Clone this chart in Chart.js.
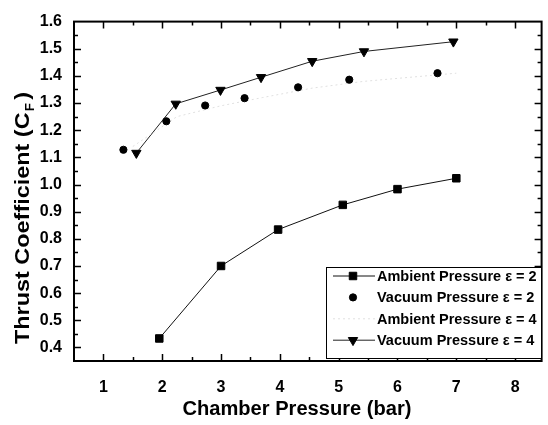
<!DOCTYPE html>
<html>
<head>
<meta charset="utf-8">
<script src="https://cdn.jsdelivr.net/npm/chart.js@4.4.2/dist/chart.umd.min.js"></script>
<style>
  html, body { margin: 0; padding: 0; background: #fff; overflow: hidden; }
  #wrap { width: 548px; height: 425px; position: relative; }
</style>
</head>
<body>
<div id="wrap"><canvas id="cf" width="548" height="425"></canvas></div>
<script>
// Thrust coefficient vs chamber pressure
const xTicks = [1, 2, 3, 4, 5, 6, 7, 8];
const yTicks = [0.4, 0.5, 0.6, 0.7, 0.8, 0.9, 1.0, 1.1, 1.2, 1.3, 1.4, 1.5, 1.6];

const ambE2X = [1.95, 3.0, 3.97, 5.07, 6.0, 7.0];
const ambE2Y = [0.433, 0.70, 0.834, 0.925, 0.983, 1.023];

const vacE2X = [1.34, 2.07, 2.73, 3.4, 4.31, 5.18, 6.68];
const vacE2Y = [1.128, 1.233, 1.291, 1.318, 1.358, 1.386, 1.41];

const ambE4X = [1.5, 2.25, 3.0, 3.7, 4.55, 5.43, 7.0];
const ambE4Y = [1.14, 1.25, 1.29, 1.32, 1.355, 1.38, 1.41];

const vacE4X = [1.56, 2.23, 2.99, 3.68, 4.55, 5.43, 6.95];
const vacE4Y = [1.116, 1.297, 1.348, 1.395, 1.454, 1.49, 1.526];

const X_TITLE = 'Chamber Pressure (bar)';
const Y_TITLE = ['Thrust Coefficient (C', 'F', ')'];

const FONT = '"Liberation Sans", Arial, sans-serif';
const pts = (xs, ys) => xs.map((x, i) => ({ x, y: ys[i] }));

// frame, inward ticks on all sides, legend box, axis titles (y has a subscript)
const decor = {
  id: 'decor',
  afterDraw(chart) {
    const { ctx, chartArea: a, scales: { x, y } } = chart;
    ctx.save();
    ctx.strokeStyle = '#000';
    ctx.lineWidth = 2;
    ctx.strokeRect(a.left, a.top, a.right - a.left, a.bottom - a.top);

    ctx.lineWidth = 1.5;
    ctx.beginPath();
    for (let v = 0.5; v <= 8.5; v += 0.5) {
      const px = Math.round(x.getPixelForValue(v)) + 0.5;
      if (px < a.left + 1 || px > a.right - 1) continue;
      const len = Number.isInteger(v) ? 7 : 4;
      ctx.moveTo(px, a.bottom); ctx.lineTo(px, a.bottom - len);
      ctx.moveTo(px, a.top); ctx.lineTo(px, a.top + len);
    }
    for (let v = 0.4; v <= 1.601; v += 0.05) {
      const py = Math.round(y.getPixelForValue(v)) + 0.5;
      if (py < a.top + 1 || py > a.bottom - 1) continue;
      const major = Math.abs(v * 10 - Math.round(v * 10)) < 1e-6;
      const len = major ? 7 : 4;
      ctx.moveTo(a.left, py); ctx.lineTo(a.left + len, py);
      ctx.moveTo(a.right, py); ctx.lineTo(a.right - len, py);
    }
    ctx.stroke();

    ctx.fillStyle = '#000';
    ctx.textBaseline = 'alphabetic';

    // x axis title
    ctx.save();
    ctx.font = 'bold 20px ' + FONT;
    const wx = ctx.measureText(X_TITLE).width;
    ctx.translate(297, 415);
    ctx.scale(229 / wx, 1);
    ctx.textAlign = 'center';
    ctx.fillText(X_TITLE, 0, 0);
    ctx.restore();

    // y axis title
    const big = 'bold 21px ' + FONT, small = 'bold 12px ' + FONT;
    ctx.save();
    ctx.font = big;
    const wMain = ctx.measureText(Y_TITLE[0]).width;
    const wClose = ctx.measureText(Y_TITLE[2]).width;
    ctx.font = small;
    const wSub = ctx.measureText(Y_TITLE[1]).width;
    const total = wMain + wSub + 4 + wClose;
    ctx.translate(29, 218);
    ctx.rotate(-Math.PI / 2);
    ctx.scale(252 / total, 1);
    let sx = -total / 2;
    ctx.font = big;
    ctx.fillText(Y_TITLE[0], sx, 0);
    sx += wMain + 1;
    ctx.font = small;
    ctx.fillText(Y_TITLE[1], sx, 5);
    sx += wSub + 3;
    ctx.font = big;
    ctx.fillText(Y_TITLE[2], sx, 0);
    ctx.restore();

    // legend
    const lx = 326, ly = 267, lw = 215, lh = 91;
    ctx.fillStyle = '#fff';
    ctx.fillRect(lx, ly, lw, lh);
    ctx.lineWidth = 1;
    ctx.strokeStyle = '#000';
    ctx.strokeRect(lx + 0.5, ly + 0.5, lw, lh);
    ctx.font = 'bold 14.5px ' + FONT;
    ctx.textBaseline = 'middle';
    chart.data.datasets.forEach((ds, i) => {
      const ry = 276 + i * 21.4;
      if (ds.showLine !== false) {
        ctx.save();
        ctx.strokeStyle = ds.borderColor;
        ctx.lineWidth = ds.borderWidth;
        ctx.setLineDash(ds.borderDash || []);
        ctx.beginPath();
        ctx.moveTo(333, ry); ctx.lineTo(375, ry);
        ctx.stroke();
        ctx.restore();
      }
      if (ds.pointRadius > 0) {
        ctx.fillStyle = ds.pointBackgroundColor;
        ctx.strokeStyle = ds.pointBackgroundColor;
        Chart.helpers.drawPoint(ctx, {
          pointStyle: ds.pointStyle, radius: ds.pointRadius,
          rotation: ds.pointRotation || 0, borderWidth: 1,
        }, 353, ry);
      }
      ctx.fillStyle = '#000';
      ctx.fillText(ds.label, 377, ry + 1);
    });
    ctx.restore();
  },
};

new Chart(document.getElementById('cf'), {
  type: 'scatter',
  data: {
    datasets: [
      {
        label: 'Ambient Pressure \u03b5 = 2', data: pts(ambE2X, ambE2Y), showLine: true,
        borderColor: '#111', borderWidth: 1, pointStyle: 'rect', pointRadius: 5.3,
        pointBackgroundColor: '#000', pointBorderColor: '#000', pointBorderWidth: 1,
      },
      {
        label: 'Vacuum Pressure \u03b5 = 2', data: pts(vacE2X, vacE2Y), showLine: false,
        borderColor: '#000', borderWidth: 1, pointStyle: 'circle', pointRadius: 3.6,
        pointBackgroundColor: '#000', pointBorderColor: '#000', pointBorderWidth: 1,
      },
      {
        label: 'Ambient Pressure \u03b5 = 4', data: pts(ambE4X, ambE4Y), showLine: true,
        borderColor: '#e0e0e0', borderWidth: 1, borderDash: [2, 3], pointRadius: 0,
        pointBackgroundColor: '#e0e0e0',
      },
      {
        label: 'Vacuum Pressure \u03b5 = 4', data: pts(vacE4X, vacE4Y), showLine: true,
        borderColor: '#222', borderWidth: 1, pointStyle: 'triangle', pointRotation: 180,
        pointRadius: 5.4, pointBackgroundColor: '#000', pointBorderColor: '#000', pointBorderWidth: 1,
      },
    ],
  },
  options: {
    responsive: false, animation: false,
    layout: { padding: { top: 15, right: 1, left: 0, bottom: 0 } },
    plugins: { legend: { display: false }, tooltip: { enabled: false } },
    scales: {
      x: {
        type: 'linear', min: 0.5, max: 8.45,
        afterBuildTicks: s => { s.ticks = xTicks.map(v => ({ value: v })); },
        afterFit: s => { s.height = 64; },
        grid: { display: false, drawTicks: false }, border: { display: false },
        ticks: { color: '#000', padding: 17, font: { family: FONT, size: 16, weight: 'bold' } },
      },
      y: {
        type: 'linear', min: 0.35, max: 1.6,
        afterBuildTicks: s => { s.ticks = yTicks.map(v => ({ value: v })); },
        afterFit: s => { s.width = 74; },
        grid: { display: false, drawTicks: false }, border: { display: false },
        ticks: {
          color: '#000', padding: 12, font: { family: FONT, size: 16, weight: 'bold' },
          callback: v => v.toFixed(1),
        },
      },
    },
  },
  plugins: [decor],
});
</script>
</body>
</html>
